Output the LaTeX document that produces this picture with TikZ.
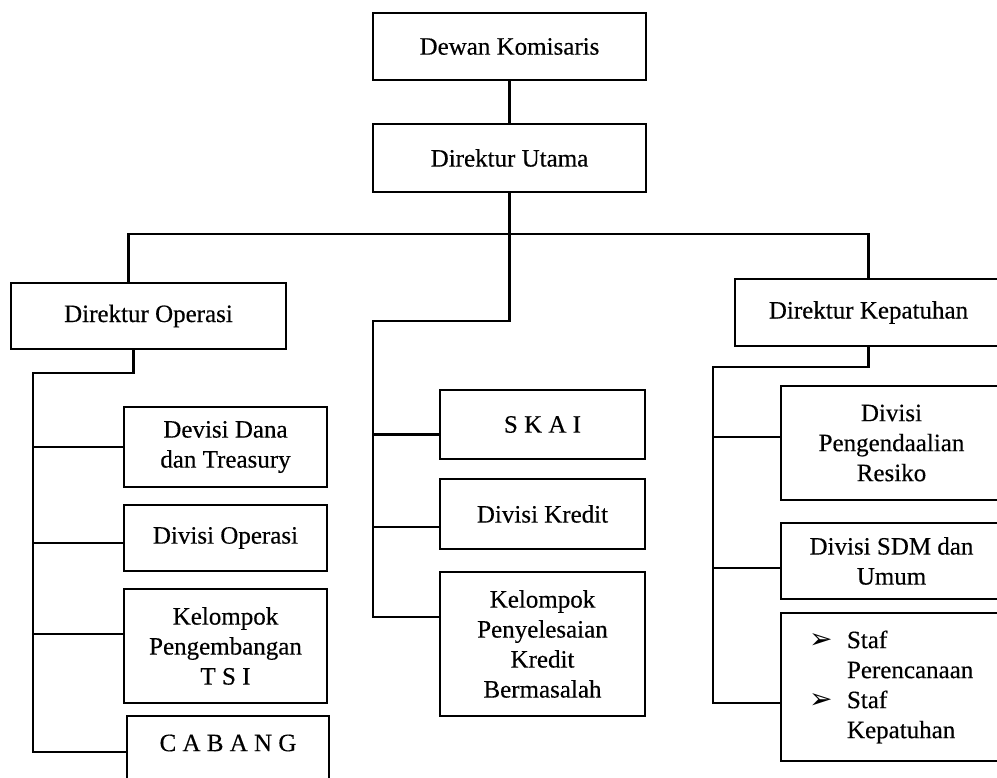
\documentclass[tikz,border=0pt]{standalone}
\usepackage{fontspec}
\setmainfont{Liberation Serif}
\newfontfamily\scanfont{Liberation Serif}[FakeBold=0.35]
\newfontfamily\dejavu{DejaVu Sans}
\newcommand\stafbul{\makebox[38pt][l]{\dejavu\fontsize{28}{28}\selectfont ➢}}
\begin{document}
\begin{tikzpicture}[x=1pt,y=-1pt,
  box/.style={draw, line width=2.3pt, rectangle, inner sep=0pt, align=center, font=\scanfont\fontsize{25}{30}\selectfont},
  link/.style={line width=2.3pt},
  lbl/.style={inner sep=0pt, font=\scanfont\fontsize{25}{30}\selectfont}]
\clip (0,0) rectangle (997,778);
% top
\node[box, minimum width=273, minimum height=67] (dk) at (509.5,46.5) {Dewan Komisaris};
\node[box, minimum width=273, minimum height=68] (du) at (509.5,158) {Direktur Utama};
% directors
\node[box, minimum width=275, minimum height=66] (dop) at (148.5,316) {Direktur Operasi};
\node[box, minimum width=267, minimum height=67] (dkep) at (868.5,312.5) {Direktur Kepatuhan};
% left column
\node[box, minimum width=203, minimum height=80] (dana) at (225.5,447) {Devisi Dana\\dan Treasury};
\node[box, minimum width=203, minimum height=66] (dops) at (225.5,538) {Divisi Operasi};
\node[box, minimum width=203, minimum height=114] (tsi) at (225.5,646) {Kelompok\\Pengembangan\\T S I};
\node[box, minimum width=202, minimum height=90, anchor=north] (cab) at (228,715) {};
\node[lbl] (cabt) at (228,743) {C A B A N G};
% middle column
\node[box, minimum width=205, minimum height=69] (skai) at (542.5,424.5) {S K A I};
\node[box, minimum width=205, minimum height=70] (kred) at (542.5,514) {Divisi Kredit};
\node[box, minimum width=205, minimum height=144] (kpkb) at (542.5,644) {Kelompok\\Penyelesaian\\Kredit\\Bermasalah};
% right column
\node[box, minimum width=221, minimum height=114] (pr) at (891.5,443) {Divisi\\Pengendaalian\\Resiko};
\node[box, minimum width=221, minimum height=76] (sdm) at (891.5,561) {Divisi SDM dan\\Umum};
\node[box, text width=165pt, inner xsep=28pt, inner ysep=0pt, minimum height=148, align=left] (staf) at (891.5,687)
  {\stafbul Staf\\\hspace*{38pt}Perencanaan\\\stafbul Staf\\\hspace*{38pt}Kepatuhan};
% connectors top
\coordinate (top) at (509.5,234);
\draw[link] (dk) -- (du);
\draw[link] (du.south) -- (top);
\draw[link] ([xshift=-20pt]dop.north) |- (top) -| (dkep.north);
% left tree
\coordinate (ol) at (33,373);
\coordinate (bcab) at ([yshift=9.5pt]cab.west);
\coordinate (bdops) at ([yshift=-5pt]dops.west);
\coordinate (btsi) at ([yshift=12pt]tsi.west);
\draw[link] ([xshift=-15pt]dop.south) |- (ol) |- (bcab);
\draw[link] (ol |- dana.west) -- (dana.west);
\draw[link] (ol |- bdops) -- (bdops);
\draw[link] (ol |- btsi) -- (btsi);
% middle tree
\coordinate (mj) at (509.5,321);
\coordinate (ml) at (373,321);
\coordinate (bskai) at ([yshift=-10pt]skai.west);
\coordinate (bkred) at ([yshift=-13pt]kred.west);
\coordinate (bkpkb) at ([yshift=27pt]kpkb.west);
\draw[link] (top) -- (mj) -- (ml) |- (bkpkb);
\draw[link] (ml |- bskai) -- (bskai);
\draw[link] (ml |- bkred) -- (bkred);
% right tree
\coordinate (rl) at (713,367);
\coordinate (bpr) at ([yshift=6pt]pr.west);
\coordinate (bsdm) at ([yshift=-7pt]sdm.west);
\coordinate (bstaf) at ([yshift=-16pt]staf.west);
\draw[link] (dkep.south) |- (rl) |- (bstaf);
\draw[link] (rl |- bpr) -- (bpr);
\draw[link] (rl |- bsdm) -- (bsdm);
\end{tikzpicture}
\end{document}
